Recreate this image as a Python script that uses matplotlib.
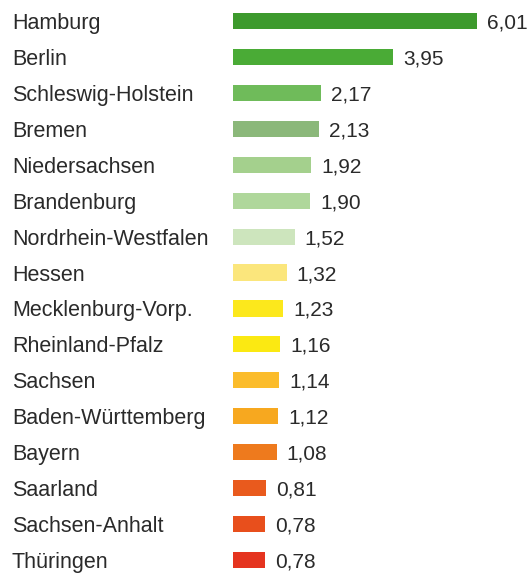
import matplotlib
matplotlib.use("Agg")
import matplotlib.pyplot as plt
import matplotlib.transforms as mtransforms

# Data
laender = ["Hamburg", "Berlin", "Schleswig-Holstein", "Bremen", "Niedersachsen",
           "Brandenburg", "Nordrhein-Westfalen", "Hessen", "Mecklenburg-Vorp.",
           "Rheinland-Pfalz", "Sachsen", "Baden-Württemberg", "Bayern", "Saarland",
           "Sachsen-Anhalt", "Thüringen"]
werte = [6.01, 3.95, 2.17, 2.13, 1.92, 1.90, 1.52, 1.32, 1.23, 1.16, 1.14, 1.12,
         1.08, 0.81, 0.78, 0.78]
farben = ["#3d9a2d", "#4aab36", "#6fbb5a", "#8bb87a", "#a4d08d", "#afd79b",
          "#cde5bd", "#fbe67c", "#fce81c", "#fbe912", "#fbbc2b", "#f7a81f",
          "#ee7a1d", "#e95a1d", "#e84f1c", "#e5341f"]

plt.rcParams['font.family'] = ['Liberation Sans', 'DejaVu Sans']

fig = plt.figure(figsize=(5.32, 5.74), dpi=100)
left = 233 / 532
ax = fig.add_axes([left, 0, 1 - left, 1])
px_per_unit = 40.6
ax.set_xlim(0, (532 - 233) / px_per_unit)
ax.set_ylim(15.39, -0.584)

ypos = list(range(len(laender)))
ax.barh(ypos, werte, height=0.45, color=farben)

trans = mtransforms.blended_transform_factory(fig.transFigure, ax.transData)
for y, name, v in zip(ypos, laender, werte):
    ax.text(12 / 532, y, name, transform=trans, ha="left", va="center_baseline",
            fontsize=15.5, color="#2a2a2a")
    ax.text(v + 10 / px_per_unit, y, f"{v:.2f}".replace(".", ","), ha="left",
            va="center_baseline", fontsize=15, color="#2a2a2a")

ax.axis("off")
fig.savefig("out.png", dpi=100)
